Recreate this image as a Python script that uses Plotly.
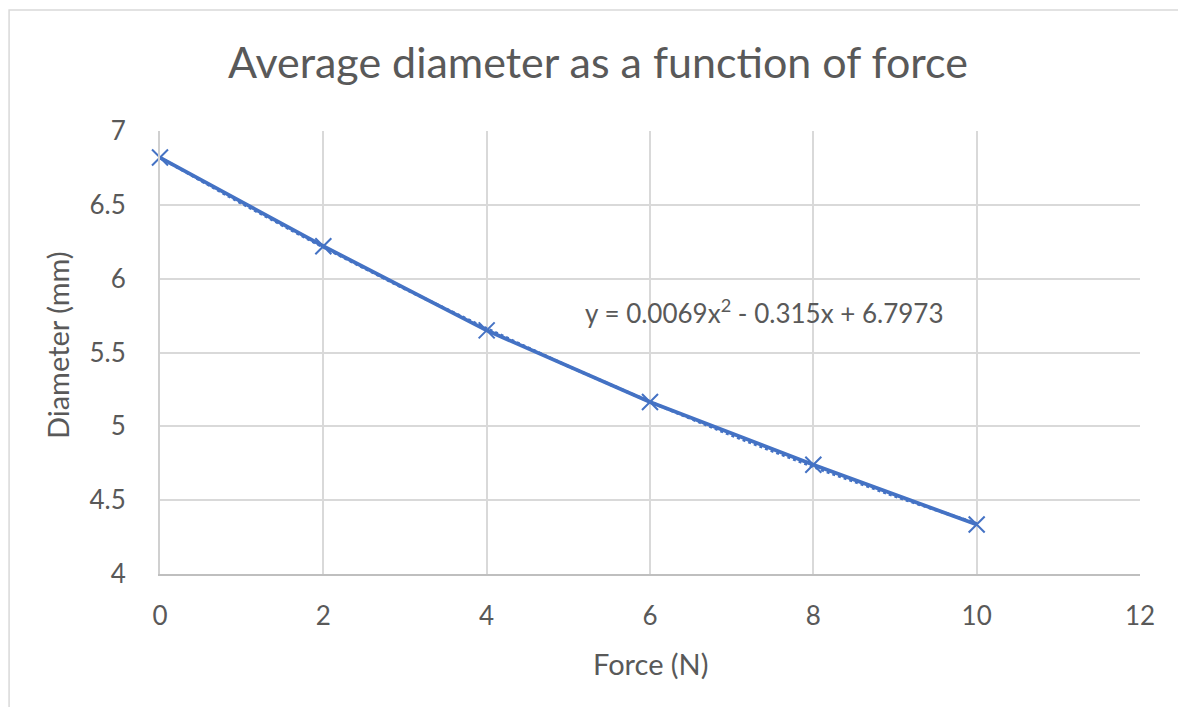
import numpy as np
import plotly.graph_objects as go

force = [0, 2, 4, 6, 8, 10]
diameter = [6.82, 6.22, 5.65, 5.165, 4.74, 4.335]
x_ticks = [0, 2, 4, 6, 8, 10, 12]
y_ticks = [4, 4.5, 5, 5.5, 6, 6.5, 7]

blue = "#4472C4"
grey_text = "#595959"
font_family = "Lato, 'Open Sans', sans-serif"

# polynomial trendline (order 2) fitted to the data
coef = np.polyfit(force, diameter, 2)
x_fit = np.linspace(min(force), max(force), 60)
y_fit = np.polyval(coef, x_fit)

fig = go.Figure()
fig.add_trace(go.Scatter(
    x=x_fit, y=y_fit, mode="lines",
    line=dict(color=blue, width=3, dash="dot"),
    hoverinfo="skip", showlegend=False))
fig.add_trace(go.Scatter(
    x=force, y=diameter, mode="lines+markers",
    line=dict(color=blue, width=3.8),
    marker=dict(symbol="x-thin", size=16, line=dict(color=blue, width=2)),
    cliponaxis=False, showlegend=False))

axis_common = dict(
    showgrid=True, gridcolor="#d9d9d9", gridwidth=2,
    zeroline=False, showline=True, linewidth=2,
    tickfont=dict(family=font_family, size=26, color=grey_text),
)
fig.update_xaxes(range=[0, 12], tickvals=x_ticks, ticks="", ticklabelstandoff=18,
                 linecolor="#bfbfbf", **axis_common)
fig.update_yaxes(range=[4, 7], tickvals=y_ticks, ticktext=[f"{v:g}" for v in y_ticks],
                 ticks="", ticklabelstandoff=27, linecolor="#d0d0d0", **axis_common)

annotations = [
    dict(text="Average diameter as a function of force", x=0.447, y=1.158,
         xref="paper", yref="paper", xanchor="center", yanchor="middle",
         showarrow=False, font=dict(family=font_family, size=43, color=grey_text)),
    dict(text="Force (N)", x=0.501, y=-0.201, xref="paper", yref="paper",
         xanchor="center", yanchor="middle", showarrow=False,
         font=dict(family=font_family, size=29, color=grey_text)),
    dict(text="Diameter (mm)", x=-0.104, y=0.517, xref="paper", yref="paper",
         xanchor="center", yanchor="middle", textangle=-90, showarrow=False,
         font=dict(family=font_family, size=29, color=grey_text)),
    dict(text="y = 0.0069x<sup>2</sup> - 0.315x + 6.7973", x=7.4, y=5.777,
         xref="x", yref="y", xanchor="center", yanchor="middle", showarrow=False,
         font=dict(family=font_family, size=26, color=grey_text)),
]

fig.update_layout(
    width=1170, height=699,
    margin=dict(l=152, r=38, t=123, b=133),
    plot_bgcolor="white", paper_bgcolor="white",
    annotations=annotations,
    shapes=[dict(type="rect", xref="paper", yref="paper",
                 x0=-0.154, x1=1.1, y0=-0.4, y1=1.273,
                 line=dict(color="#d9d9d9", width=1.5), layer="below")],
)

fig.write_html("out.html")
